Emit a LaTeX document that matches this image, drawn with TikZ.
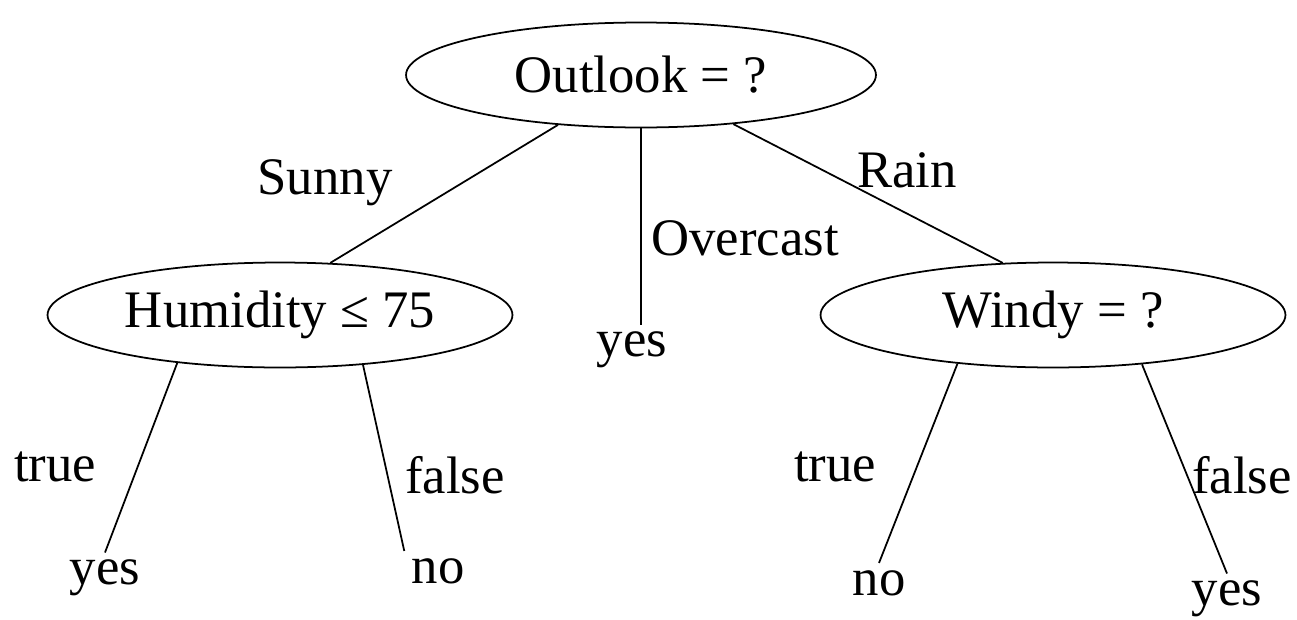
\documentclass[tikz,border=0pt]{standalone}
\usepackage{fontspec}
\setmainfont{Liberation Serif}
\usetikzlibrary{shapes.geometric}

\begin{document}
\begin{tikzpicture}[
    x=0.02cm, y=-0.02cm,
    font=\fontsize{30}{36}\selectfont,
    test/.style={draw, ellipse, line width=1pt, inner sep=0pt, minimum width=9.4cm, minimum height=2.1cm},
    leaf/.style={inner sep=4pt},
    lab/.style={inner sep=0pt},
    edge/.style={line width=1pt},
  ]
  \useasboundingbox (0,0) rectangle (1297,619);
  % ---- tests
  \node[test] (outlook) at (641,75) {Outlook = ?};
  \node[test, minimum width=9.3cm] (humid) at (280,315) {Humidity ≤ 75};
  \node[test, minimum width=9.3cm] (windy) at (1053,315) {Windy = ?};
  % ---- leaves
  \node[leaf] (overyes) at (632,350) {yes};
  \node[leaf] (humyes) at (105,578) {yes};
  \node[leaf] (humno) at (438,571) {no};
  \node[leaf] (windno) at (879,583) {no};
  \node[leaf] (windyes) at (1227,599) {yes};
  % ---- edges
  \draw[edge] (outlook.211) -- (humid.46);
  \draw[edge] (outlook.south) -- (outlook.south |- overyes.north);
  \draw[edge] (outlook.332) -- (windy.134);
  \draw[edge] (humid.205) -- (humyes.north);
  \draw[edge] (humid.329) -- (humno.north west);
  \draw[edge] (windy.207) -- (windno.north);
  \draw[edge] (windy.331) -- (windyes.north);
  % ---- edge labels
  \node[lab] (sunny) at (325,183) {Sunny};
  \node[lab] (over) at (745,238) {Overcast};
  \node[lab] (rain) at (907,170) {Rain};
  \node[lab] (humtrue) at (55,467) {true};
  \node[lab] (humfalse) at (455,475) {false};
  \node[lab] (windtrue) at (835,467) {true};
  \node[lab] (windfalse) at (1242,475) {false};
\end{tikzpicture}
\end{document}
